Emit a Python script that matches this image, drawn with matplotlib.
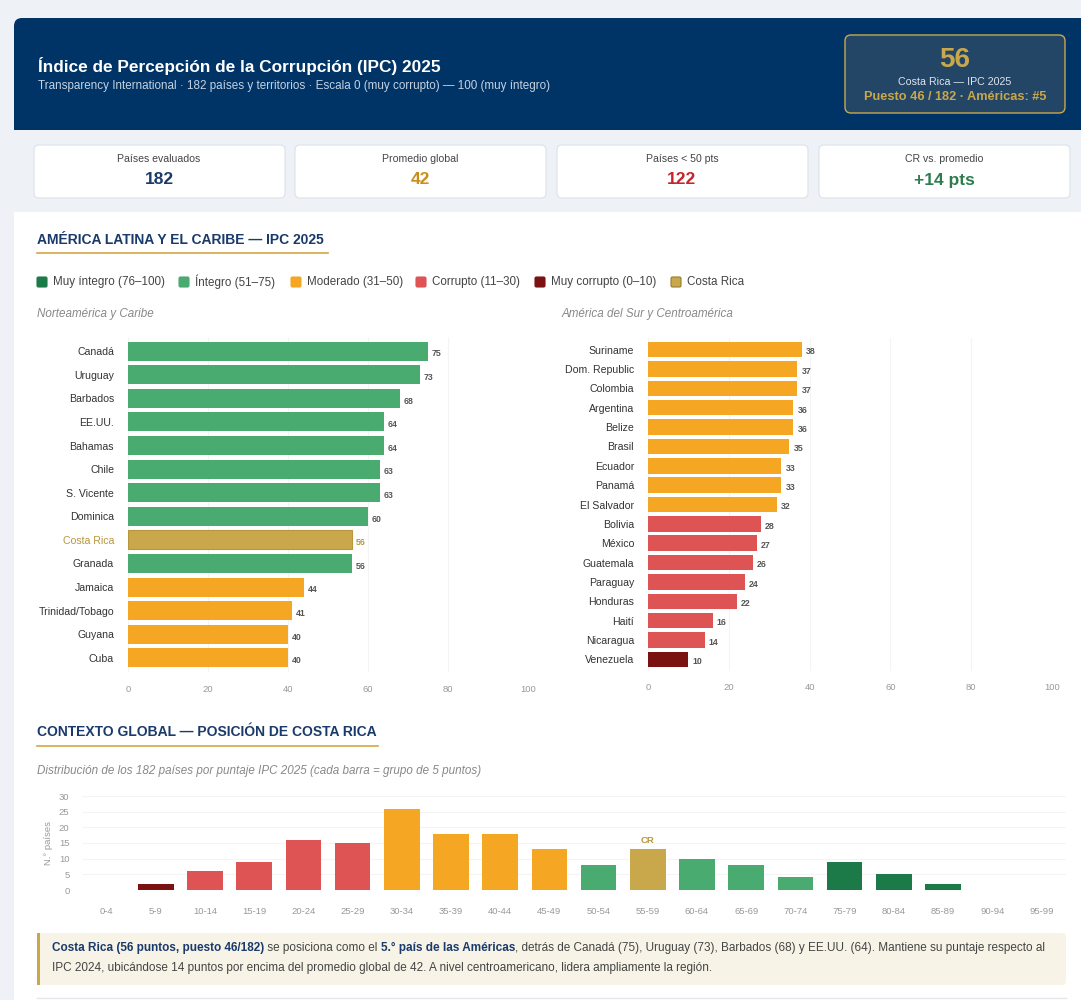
import matplotlib
matplotlib.use("Agg")
import matplotlib.pyplot as plt
from matplotlib.patches import FancyBboxPatch, Rectangle

plt.rcParams['font.family'] = ['Liberation Sans', 'DejaVu Sans']

# datos
north_names = ["Canadá", "Uruguay", "Barbados", "EE.UU.", "Bahamas", "Chile", "S. Vicente",
               "Dominica", "Costa Rica", "Granada", "Jamaica", "Trinidad/Tobago", "Guyana", "Cuba"]
north_scores = [75, 73, 68, 64, 64, 63, 63, 60, 56, 56, 44, 41, 40, 40]

south_names = ["Suriname", "Dom. Republic", "Colombia", "Argentina", "Belize", "Brasil", "Ecuador",
               "Panamá", "El Salvador", "Bolivia", "México", "Guatemala", "Paraguay", "Honduras",
               "Haití", "Nicaragua", "Venezuela"]
south_scores = [38, 37, 37, 36, 36, 35, 33, 33, 32, 28, 27, 26, 24, 22, 16, 14, 10]

bin_labels = ["0-4", "5-9", "10-14", "15-19", "20-24", "25-29", "30-34", "35-39", "40-44", "45-49",
              "50-54", "55-59", "60-64", "65-69", "70-74", "75-79", "80-84", "85-89", "90-94", "95-99"]
bin_counts = [0, 2, 6, 9, 16, 15, 26, 18, 18, 13, 8, 13, 10, 8, 4, 9, 5, 2, 0, 0]
cr_bin = "55-59"

stat_labels = ["Países evaluados", "Promedio global", "Países < 50 pts", "CR vs. promedio"]
stat_values = ["182", "42", "122", "+14 pts"]
stat_colors = ["#1a3a6b", "#c98e1c", "#c0272d", "#2e7d4f"]

legend_labels = ["Muy íntegro (76–100)", "Íntegro (51–75)", "Moderado (31–50)",
                 "Corrupto (11–30)", "Muy corrupto (0–10)", "Costa Rica"]

C_VHIGH = "#1b7a48"
C_HIGH = "#4aab70"
C_MID = "#f5a623"
C_LOW = "#de5353"
C_VLOW = "#7a1212"
C_CR = "#c9a84c"
NAVY = "#003366"
TITLE = "#1a3a6b"
GRID = "#f4f4f4"
legend_colors = [C_VHIGH, C_HIGH, C_MID, C_LOW, C_VLOW, C_CR]


def color_for(score):
    if score >= 76:
        return C_VHIGH
    if score >= 51:
        return C_HIGH
    if score >= 31:
        return C_MID
    if score >= 11:
        return C_LOW
    return C_VLOW


W, H = 1081, 1000
fig = plt.figure(figsize=(W / 100, H / 100), dpi=100)
fig.patch.set_facecolor("#eef1f6")

bg = fig.add_axes([0, 0, 1, 1], zorder=0)
bg.set_xlim(0, W)
bg.set_ylim(H, 0)
bg.axis("off")


def px_axes(left, top, right, bottom):
    a = fig.add_axes([left / W, 1 - bottom / H, (right - left) / W, (bottom - top) / H], zorder=2)
    a.patch.set_alpha(0)
    return a


# tarjeta blanca y cabecera
bg.add_patch(FancyBboxPatch((14, 18), W, H, boxstyle="round,pad=0,rounding_size=8",
                            fc="white", ec="none"))
bg.add_patch(FancyBboxPatch((14, 18), W, 112, boxstyle="round,pad=0,rounding_size=8",
                            fc=NAVY, ec="none"))
bg.add_patch(Rectangle((14, 110), W, 20, fc=NAVY, ec="none"))
bg.text(38, 66, "Índice de Percepción de la Corrupción (IPC) 2025", color="white",
        fontsize=12.4, fontweight="bold", va="center")
bg.text(38, 86, "Transparency International · 182 países y territorios · Escala 0 (muy corrupto) — 100 (muy íntegro)",
        color="#c5d2e2", fontsize=8.4, va="center")

bg.add_patch(FancyBboxPatch((845, 35), 220, 78, boxstyle="round,pad=0,rounding_size=6",
                            fc="#234566", ec=C_CR, lw=1))
bg.text(955, 60, "56", color=C_CR, fontsize=20, fontweight="bold", ha="center", va="center")
bg.text(955, 82, "Costa Rica — IPC 2025", color="#dde6f0", fontsize=7.7, ha="center", va="center")
bg.text(955, 97, "Puesto 46 / 182 · Américas: #5", color=C_CR, fontsize=9.2, fontweight="bold",
        ha="center", va="center")

# tarjetas de resumen
bg.add_patch(Rectangle((14, 130), W, 82, fc="#eef2f7", ec="none"))
card_x = [34, 295, 557, 819]
for cx, lab, val, col in zip(card_x, stat_labels, stat_values, stat_colors):
    bg.add_patch(FancyBboxPatch((cx, 145), 251, 53, boxstyle="round,pad=0,rounding_size=5",
                                fc="white", ec="#dbe2ea", lw=0.8))
    bg.text(cx + 125, 159, lab, color="#444444", fontsize=7.6, ha="center", va="center")
    bg.text(cx + 125, 180, val, color=col, fontsize=12.5, fontweight="bold", ha="center", va="center")

# seccion 1
bg.text(37, 240, "AMÉRICA LATINA Y EL CARIBE — IPC 2025", color=TITLE, fontsize=10,
        fontweight="bold", va="center")
bg.plot([37, 328], [253, 253], color="#d4a843", lw=1.2)

leg_x = [37, 179, 291, 416, 535, 671]
for lx, lab, col in zip(leg_x, legend_labels, legend_colors):
    ec = "#9a7b2c" if lab == "Costa Rica" else col
    bg.add_patch(FancyBboxPatch((lx, 277), 10, 10, boxstyle="round,pad=0,rounding_size=1.5",
                                fc=col, ec=ec, lw=0.8))
    bg.text(lx + 16, 282, lab, color="#444444", fontsize=8.4, va="center")

bg.text(37, 314, "Norteamérica y Caribe", color="#888888", fontsize=8.4, style="italic", va="center")
bg.text(562, 314, "América del Sur y Centroamérica", color="#888888", fontsize=8.4, style="italic",
        va="center")


def hbar_panel(ax, names, scores, n_pad):
    cols = [C_CR if n == "Costa Rica" else color_for(s) for n, s in zip(names, scores)]
    y = list(range(len(names)))
    ax.barh(y, scores, height=0.8, color=cols, zorder=2,
            edgecolor=["#b8963e" if n == "Costa Rica" else "none" for n in names], lw=0.8)
    ax.set_xlim(0, 100)
    ax.set_ylim(len(names) - 1 + n_pad, -n_pad)
    ax.set_xticks([0, 20, 40, 60, 80, 100])
    ax.xaxis.grid(True, color=GRID, lw=0.8, zorder=0)
    ax.set_yticks(y)
    ax.set_yticklabels(names, fontsize=7.6, color="#333333")
    for lab, n in zip(ax.get_yticklabels(), names):
        if n == "Costa Rica":
            lab.set_color("#b8963e")
    ax.tick_params(axis="y", length=0, pad=10)
    ax.tick_params(axis="x", length=0, labelsize=6.8, labelcolor="#999999", pad=9)
    for sp in ax.spines.values():
        sp.set_visible(False)
    for yi, s, n in zip(y, scores, names):
        ax.text(s + 1, yi + 0.12, str(s), fontsize=6.3, fontweight="bold", va="center",
                color="#b8963e" if n == "Costa Rica" else "#555555")


ax1 = px_axes(128, 337, 528, 672)
hbar_panel(ax1, north_names, north_scores, 0.6)
ax2 = px_axes(648, 338, 1052, 671)
hbar_panel(ax2, south_names, south_scores, 0.6)

# seccion 2
bg.text(37, 732, "CONTEXTO GLOBAL — POSICIÓN DE COSTA RICA", color=TITLE, fontsize=10,
        fontweight="bold", va="center")
bg.plot([37, 378], [746, 746], color="#d4a843", lw=1.2)
bg.text(37, 771, "Distribución de los 182 países por puntaje IPC 2025 (cada barra = grupo de 5 puntos)",
        color="#888888", fontsize=8.4, style="italic", va="center")

ax3 = px_axes(82, 796, 1066, 890)
hist_cols = []
for lab in bin_labels:
    hi = int(lab.split("-")[1])
    hist_cols.append(C_CR if lab == cr_bin else color_for(hi))
xs = list(range(len(bin_labels)))
ax3.bar(xs, bin_counts, width=0.72, color=hist_cols, zorder=2)
ax3.set_xlim(-0.5, len(bin_labels) - 0.5)
ax3.set_ylim(0, 30)
ax3.set_yticks([0, 5, 10, 15, 20, 25, 30])
ax3.set_xticks(xs)
ax3.set_xticklabels(bin_labels)
ax3.yaxis.grid(True, color=GRID, lw=0.8, zorder=0)
ax3.tick_params(axis="both", length=0, labelsize=6.8, labelcolor="#999999")
ax3.tick_params(axis="x", pad=12)
ax3.tick_params(axis="y", pad=9)
for sp in ax3.spines.values():
    sp.set_visible(False)
ax3.set_ylabel("N.° países", fontsize=6.8, color="#999999", labelpad=4)
ci = bin_labels.index(cr_bin)
ax3.text(ci, bin_counts[ci] + 1.5, "CR", ha="center", va="bottom", fontsize=6.8,
         fontweight="bold", color="#b8963e")

# nota
bg.add_patch(FancyBboxPatch((37, 933), 1029, 52, boxstyle="round,pad=0,rounding_size=4",
                            fc="#f8f3e7", ec="none"))
bg.add_patch(Rectangle((37, 933), 2.5, 52, fc=C_CR, ec="none"))
bg.plot([37, 1066], [998, 998], color="#e3e6ea", lw=1)

renderer = fig.canvas.get_renderer()


def runs(x, y, parts):
    for s, bold in parts:
        t = bg.text(x, y, s, fontsize=8.5, va="center",
                    fontweight="bold" if bold else "normal",
                    color=TITLE if bold else "#444444")
        x += t.get_window_extent(renderer).width


runs(52, 948, [("Costa Rica (56 puntos, puesto 46/182)", True),
               (" se posiciona como el ", False),
               ("5.° país de las Américas", True),
               (", detrás de Canadá (75), Uruguay (73), Barbados (68) y EE.UU. (64). Mantiene su puntaje respecto al", False)])
runs(52, 968, [("IPC 2024, ubicándose 14 puntos por encima del promedio global de 42. A nivel centroamericano, lidera ampliamente la región.", False)])

fig.savefig("out.png", dpi=100, facecolor=fig.get_facecolor())
